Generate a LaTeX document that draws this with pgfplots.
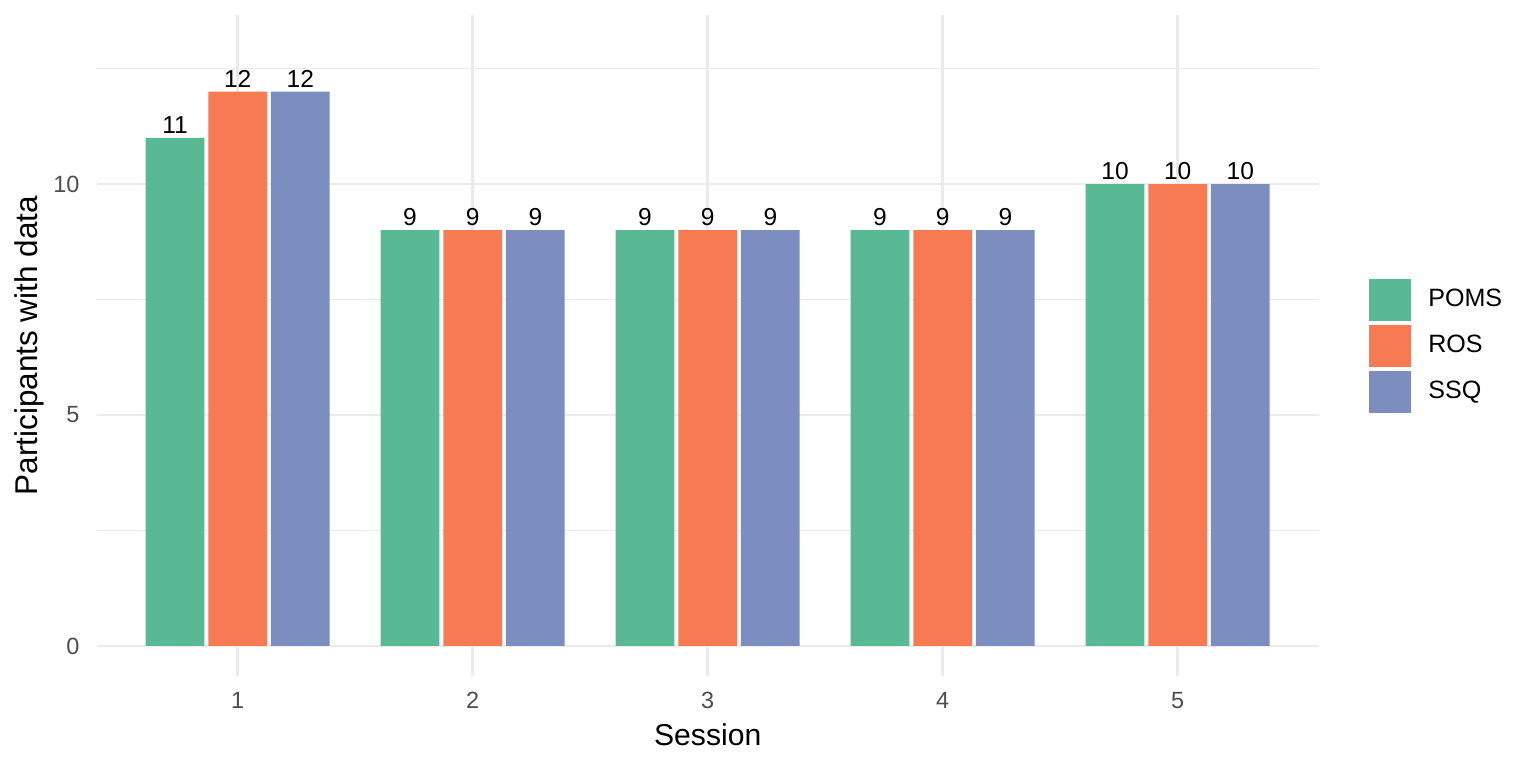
\documentclass[border=0pt]{standalone}
\usepackage{pgfplots}
\pgfplotsset{compat=1.18}
\usepackage{fontspec}
\setmainfont{Liberation Sans}
\definecolor{cPOMS}{RGB}{88,185,148}
\definecolor{cROS}{RGB}{248,122,82}
\definecolor{cSSQ}{RGB}{123,142,191}
\definecolor{gridc}{RGB}{235,235,235}
\definecolor{tickc}{RGB}{77,77,77}
\begin{document}
\begin{tikzpicture}
\useasboundingbox (0,0) rectangle (576pt,288pt);
\begin{axis}[
  at={(36.26pt,34.5pt)}, anchor=south west,
  scale only axis, width=458.25pt, height=247.7pt,
  xmin=0.4, xmax=5.6, ymin=-0.65, ymax=13.65,
  xtick={1,2,3,4,5}, ytick={0,5,10}, minor ytick={2.5,7.5,12.5},
  xmajorgrids, ymajorgrids, yminorgrids,
  major grid style={gridc, line width=1.07pt},
  minor grid style={gridc, line width=0.53pt},
  axis line style={draw=none},
  major tick length=0pt, minor tick length=0pt,
  /pgf/number format/assume math mode=true,
  ticklabel style={font=\fontsize{8.8}{10}\selectfont, text=tickc},
  xticklabel style={anchor=north, inner sep=0pt, yshift=-6pt},
  yticklabel style={anchor=east, inner sep=0pt, xshift=-6.26pt},
  xlabel={Session}, ylabel={Participants with data},
  every axis x label/.style={at={(axis description cs:0.5,-0.0715)}, anchor=north, inner sep=0pt, font=\fontsize{11.3}{13}\selectfont},
  every axis y label/.style={at={(axis description cs:-0.0426,0.5)}, rotate=90, anchor=south, inner sep=0pt, font=\fontsize{11.8}{13}\selectfont},
  ybar, bar width=0.25,
  nodes near coords,
  nodes near coords style={font=\fontsize{9.2}{10}\selectfont, text=black, anchor=south, inner sep=0pt, yshift=1.5pt},
  legend style={at={(axis description cs:1.0412,0.5)}, anchor=west, draw=none, fill=none, inner sep=0pt, outer sep=0pt, row sep=0pt, column sep=0pt, nodes={inner sep=0pt}, font=\fontsize{9.4}{10}\selectfont},
  legend cell align=left,
  legend image code/.code={\path[draw=none,fill=none] (0pt,-8.625pt) rectangle (22.25pt,8.625pt); \fill[#1,draw=none] (0pt,-7.875pt) rectangle (15.75pt,7.875pt);},
]
\addplot[fill=cPOMS, draw=none, bar shift=-0.2667] coordinates {(1,11) (2,9) (3,9) (4,9) (5,10)};
\addplot[fill=cROS, draw=none, bar shift=0] coordinates {(1,12) (2,9) (3,9) (4,9) (5,10)};
\addplot[fill=cSSQ, draw=none, bar shift=0.2667] coordinates {(1,12) (2,9) (3,9) (4,9) (5,10)};
\legend{POMS,ROS,SSQ}
\end{axis}
\end{tikzpicture}
\end{document}
